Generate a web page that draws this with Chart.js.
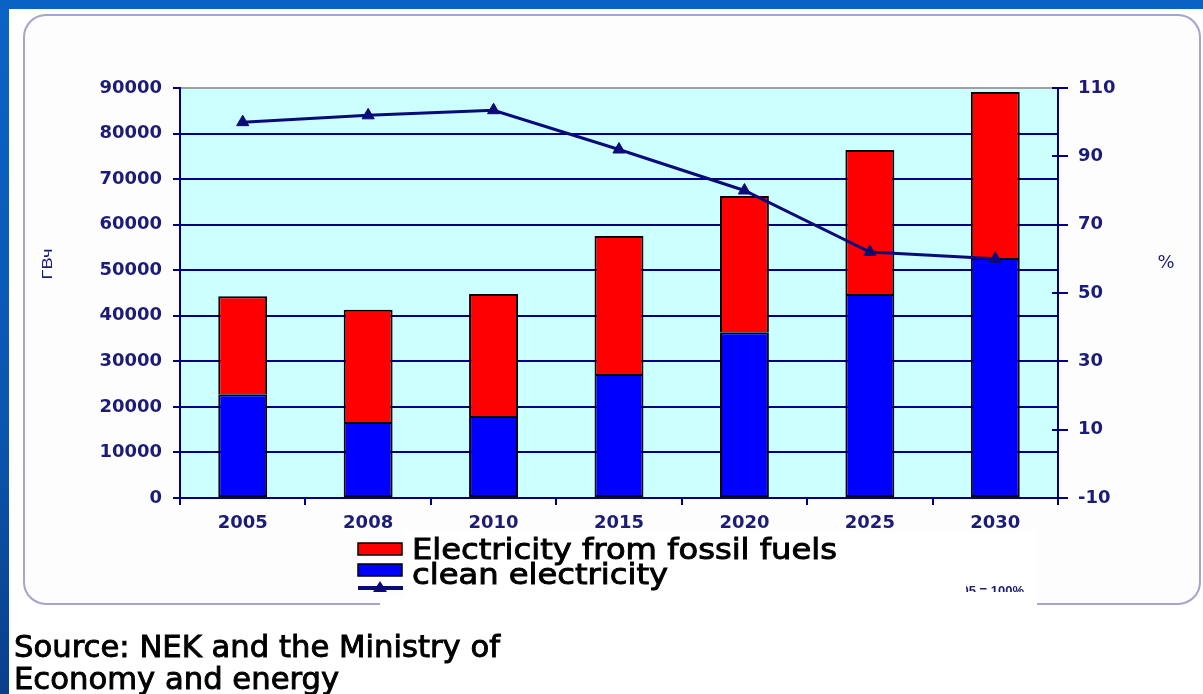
<!DOCTYPE html>
<html>
<head>
<meta charset="utf-8">
<script src="https://cdn.jsdelivr.net/npm/chart.js@4/dist/chart.umd.min.js"></script>
<style>
  html, body { margin: 0; padding: 0; background: #ffffff; overflow: hidden; }
  #wrap { width: 1203px; height: 694px; position: relative; }
  canvas { display: block; }
</style>
</head>
<body>
<div id="wrap"><canvas id="c" width="1203" height="694"></canvas></div>
<script>
// Electricity generation, GWh, and clean share index (2005 = 100%)
const years = ['2005', '2008', '2010', '2015', '2020', '2025', '2030'];
const cleanGWh = [22800, 16700, 18000, 27200, 36400, 44800, 52700];
const fossilGWh = [21500, 24600, 26800, 30300, 29900, 31600, 36400];
const sharePct = [100, 102, 103.5, 92, 80, 62, 60];

const leftTicks = [0, 10000, 20000, 30000, 40000, 50000, 60000, 70000, 80000, 90000];
const rightTicks = [-10, 10, 30, 50, 70, 90, 110];

const seriesNames = ['Electricity from fossil fuels', 'clean electricity'];
const unitLeft = 'ГВч';
const unitRight = '%';
const baseNote = '2005 = 100%';
const sourceLines = ['Source: NEK and the Ministry of', 'Economy and energy'];

const NAVY = '#000080';
const LABEL = '#1c1c78';
const RED = '#ff0000';
const BLUE = '#0000ff';
const LINE = '#0a0a78';
const tickFont = { family: 'DejaVu Sans', weight: 'bold', size: 18 };

function roundRect(ctx, x, y, w, h, r) {
  ctx.beginPath();
  ctx.moveTo(x + r, y);
  ctx.lineTo(x + w - r, y);
  ctx.arcTo(x + w, y, x + w, y + r, r);
  ctx.lineTo(x + w, y + h - r);
  ctx.arcTo(x + w, y + h, x + w - r, y + h, r);
  ctx.lineTo(x + r, y + h);
  ctx.arcTo(x, y + h, x, y + h - r, r);
  ctx.lineTo(x, y + r);
  ctx.arcTo(x, y, x + r, y, r);
  ctx.closePath();
}

// text stretched horizontally by k, with a light outline for a heavier look
function drawScaled(ctx, text, x, y, k, weight) {
  ctx.save();
  ctx.translate(x, y);
  ctx.scale(k, 1);
  ctx.fillText(text, 0, 0);
  if (weight) {
    ctx.lineWidth = weight;
    ctx.strokeStyle = ctx.fillStyle;
    ctx.strokeText(text, 0, 0);
  }
  ctx.restore();
}

const slideBackground = {
  id: 'slideBackground',
  beforeDraw(chart) {
    const ctx = chart.ctx;
    const W = chart.width, H = chart.height;
    ctx.save();
    ctx.fillStyle = '#ffffff';
    ctx.fillRect(0, 0, W, H);
    // blue slide frame strips
    const g = ctx.createLinearGradient(0, 0, 0, H);
    g.addColorStop(0, '#0a64c6');
    g.addColorStop(0.6, '#0a56b0');
    g.addColorStop(1, '#0b3f8c');
    ctx.fillStyle = g;
    ctx.fillRect(0, 0, 9, H);
    ctx.fillStyle = '#0a62c4';
    ctx.fillRect(0, 0, W, 9);
    // rounded chart panel
    ctx.fillStyle = '#fdfdfd';
    roundRect(ctx, 24, 15, 1176, 589, 22);
    ctx.fill();
    ctx.strokeStyle = '#a4a4cc';
    ctx.lineWidth = 2;
    ctx.stroke();
    // plot area
    const a = chart.chartArea;
    ctx.fillStyle = '#ccffff';
    ctx.fillRect(a.left, a.top, a.right - a.left, a.bottom - a.top);
    ctx.restore();
  }
};

const overlays = {
  id: 'overlays',
  afterDraw(chart) {
    const ctx = chart.ctx;
    const a = chart.chartArea;
    const y1 = chart.scales.y1;
    ctx.save();

    // right axis tick marks also cross into the plot area
    ctx.strokeStyle = NAVY;
    ctx.lineWidth = 2;
    rightTicks.forEach(v => {
      const py = Math.round(y1.getPixelForValue(v));
      ctx.beginPath();
      ctx.moveTo(a.right - 6, py);
      ctx.lineTo(a.right, py);
      ctx.stroke();
    });

    // axis units
    ctx.fillStyle = LABEL;
    ctx.font = '14px "Liberation Sans"';
    ctx.textAlign = 'center';
    ctx.textBaseline = 'middle';
    ctx.save();
    ctx.translate(48, 264);
    ctx.rotate(-Math.PI / 2);
    ctx.scale(1.3, 1);
    ctx.fillText(unitLeft, 0, 0);
    ctx.restore();
    ctx.font = '18px "DejaVu Sans"';
    ctx.fillText(unitRight, 1166, 263);

    // legend block over the lower panel edge
    ctx.fillStyle = '#ffffff';
    ctx.fillRect(405, 530, 632, 86);
    ctx.fillRect(380, 597, 30, 19);

    // base year note, only its upper part shows
    ctx.save();
    ctx.beginPath();
    ctx.rect(966, 570, 80, 22);
    ctx.clip();
    ctx.fillStyle = LABEL;
    ctx.font = 'bold 13px "Liberation Sans"';
    ctx.textAlign = 'right';
    ctx.textBaseline = 'alphabetic';
    ctx.fillText(baseNote, 1024, 595);
    ctx.restore();

    const ds = chart.data.datasets;
    const fossil = ds[1], clean = ds[0], line = ds[2];
    ctx.lineWidth = 1.5;
    ctx.strokeStyle = '#000000';
    ctx.fillStyle = fossil.backgroundColor;
    ctx.fillRect(358, 543, 44, 12);
    ctx.strokeRect(358, 543, 44, 12);
    ctx.fillStyle = clean.backgroundColor;
    ctx.fillRect(358, 564, 44, 12);
    ctx.strokeRect(358, 564, 44, 12);
    ctx.strokeStyle = line.borderColor;
    ctx.lineWidth = 4;
    ctx.beginPath();
    ctx.moveTo(358, 588);
    ctx.lineTo(403, 588);
    ctx.stroke();
    ctx.fillStyle = line.borderColor;
    ctx.beginPath();
    ctx.moveTo(380, 581);
    ctx.lineTo(387, 592);
    ctx.lineTo(373, 592);
    ctx.closePath();
    ctx.fill();

    ctx.fillStyle = '#000000';
    ctx.textAlign = 'left';
    ctx.textBaseline = 'alphabetic';
    ctx.font = '28px "DejaVu Sans"';
    const kLeg = 425 / ctx.measureText(seriesNames[0]).width;
    drawScaled(ctx, seriesNames[0], 412, 559, kLeg, 0.9);
    drawScaled(ctx, seriesNames[1], 412, 584, kLeg, 0.9);

    // source
    ctx.font = '30px "DejaVu Sans"';
    const kSrc = 486 / ctx.measureText(sourceLines[0]).width;
    drawScaled(ctx, sourceLines[0], 14, 657, kSrc, 0.9);
    drawScaled(ctx, sourceLines[1], 14, 689, kSrc, 0.9);

    ctx.restore();
  }
};

new Chart(document.getElementById('c'), {
  data: {
    labels: years,
    datasets: [
      {
        type: 'bar',
        label: seriesNames[1],
        data: cleanGWh,
        backgroundColor: BLUE,
        borderColor: '#000000',
        borderWidth: 2,
        borderSkipped: false,
        yAxisID: 'y',
        stack: 'gen',
        order: 1,
        categoryPercentage: 1,
        barPercentage: 0.39
      },
      {
        type: 'bar',
        label: seriesNames[0],
        data: fossilGWh,
        backgroundColor: RED,
        borderColor: '#000000',
        borderWidth: 2,
        borderSkipped: 'bottom',
        yAxisID: 'y',
        stack: 'gen',
        order: 1,
        categoryPercentage: 1,
        barPercentage: 0.39
      },
      {
        type: 'line',
        label: 'share',
        data: sharePct,
        yAxisID: 'y1',
        borderColor: LINE,
        backgroundColor: LINE,
        borderWidth: 3,
        pointStyle: 'triangle',
        pointRadius: 7,
        pointBackgroundColor: LINE,
        pointBorderColor: LINE,
        pointBorderWidth: 1,
        tension: 0,
        order: 0
      }
    ]
  },
  options: {
    responsive: false,
    animation: false,
    devicePixelRatio: 1,
    layout: { padding: { top: 88, left: 0, right: 0, bottom: 0 } },
    plugins: {
      legend: { display: false },
      tooltip: { enabled: false }
    },
    scales: {
      x: {
        stacked: true,
        offset: true,
        grid: {
          offset: true,
          drawOnChartArea: false,
          drawTicks: true,
          tickLength: 7,
          color: NAVY,
          tickColor: NAVY,
          lineWidth: 2
        },
        border: { color: NAVY, width: 2 },
        ticks: { color: LABEL, font: tickFont, padding: 8, maxRotation: 0 },
        afterFit(s) { s.height = 196; }
      },
      y: {
        position: 'left',
        stacked: true,
        min: 0,
        max: 90000,
        afterBuildTicks(s) { s.ticks = leftTicks.map(v => ({ value: v })); },
        grid: {
          color: ctx => (ctx.tick && ctx.tick.value === 90000 ? '#a0a0a0' : NAVY),
          tickColor: NAVY,
          lineWidth: 2,
          tickLength: 7
        },
        border: { color: NAVY, width: 2 },
        ticks: { color: LABEL, font: tickFont, padding: 11, callback: v => String(v) },
        afterFit(s) { s.width = 180; }
      },
      y1: {
        position: 'right',
        min: -10,
        max: 110,
        afterBuildTicks(s) { s.ticks = rightTicks.map(v => ({ value: v })); },
        grid: {
          drawOnChartArea: false,
          color: NAVY,
          tickColor: NAVY,
          lineWidth: 2,
          tickLength: 10
        },
        border: { color: NAVY, width: 2 },
        ticks: { color: LABEL, font: tickFont, padding: 10, callback: v => String(v) },
        afterFit(s) { s.width = 145; }
      }
    }
  },
  plugins: [slideBackground, overlays]
});
</script>
</body>
</html>
